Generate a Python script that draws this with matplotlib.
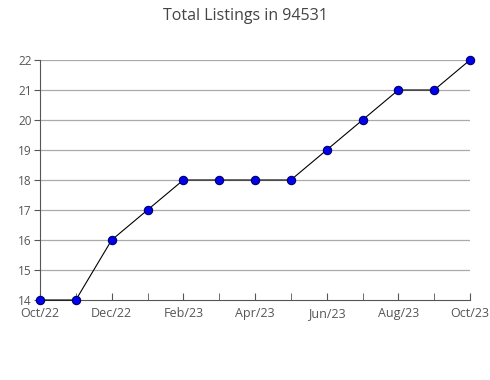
import matplotlib
matplotlib.use("Agg")
import matplotlib.pyplot as plt

months = ["Oct/22", "Nov/22", "Dec/22", "Jan/23", "Feb/23", "Mar/23", "Apr/23",
          "May/23", "Jun/23", "Jul/23", "Aug/23", "Sep/23", "Oct/23"]
listings = [14, 14, 16, 17, 18, 18, 18, 18, 19, 20, 21, 21, 22]
yticks = [14, 15, 16, 17, 18, 19, 20, 21, 22]

plt.rcParams['font.family'] = ['Open Sans', 'DejaVu Sans']

fig = plt.figure(figsize=(4.9, 3.8), dpi=100)
ax = fig.add_axes([40/490, 1-300/380, 430/490, 240/380])

x = list(range(len(months)))
ax.plot(x, listings, color='black', linewidth=0.8, marker='o', markersize=6,
        markerfacecolor='#0000ee', markeredgecolor='#000066', markeredgewidth=0.8,
        zorder=3, clip_on=False)

ax.set_xlim(0, len(months)-1)
ax.set_ylim(14, 22)
ax.set_yticks(yticks)
ax.set_yticklabels([str(v) for v in yticks], fontsize=8.5, color='#555555')
ax.set_xticks(x[::2])
ax.set_xticklabels(months[::2], fontsize=9, color='#555555', va='baseline')
ax.set_xticks(x, minor=True)
ax.tick_params(axis='x', which='both', direction='in', length=5, color='#555555', pad=12)
ax.tick_params(axis='y', which='both', direction='out', length=4, color='#555555', pad=2)
for yv in yticks[1:]:
    ax.axhline(yv, color='#aaaaaa', linewidth=0.9, zorder=1)
for side in ['top', 'right']:
    ax.spines[side].set_visible(False)
ax.spines['left'].set_color('#555555')
ax.spines['bottom'].set_color('#555555')

fig.text(245/490, 1-16/380, "Total Listings in 94531", ha='center', va='center',
         fontsize=11.5, color='#444444')

fig.savefig("out.png", dpi=100)
